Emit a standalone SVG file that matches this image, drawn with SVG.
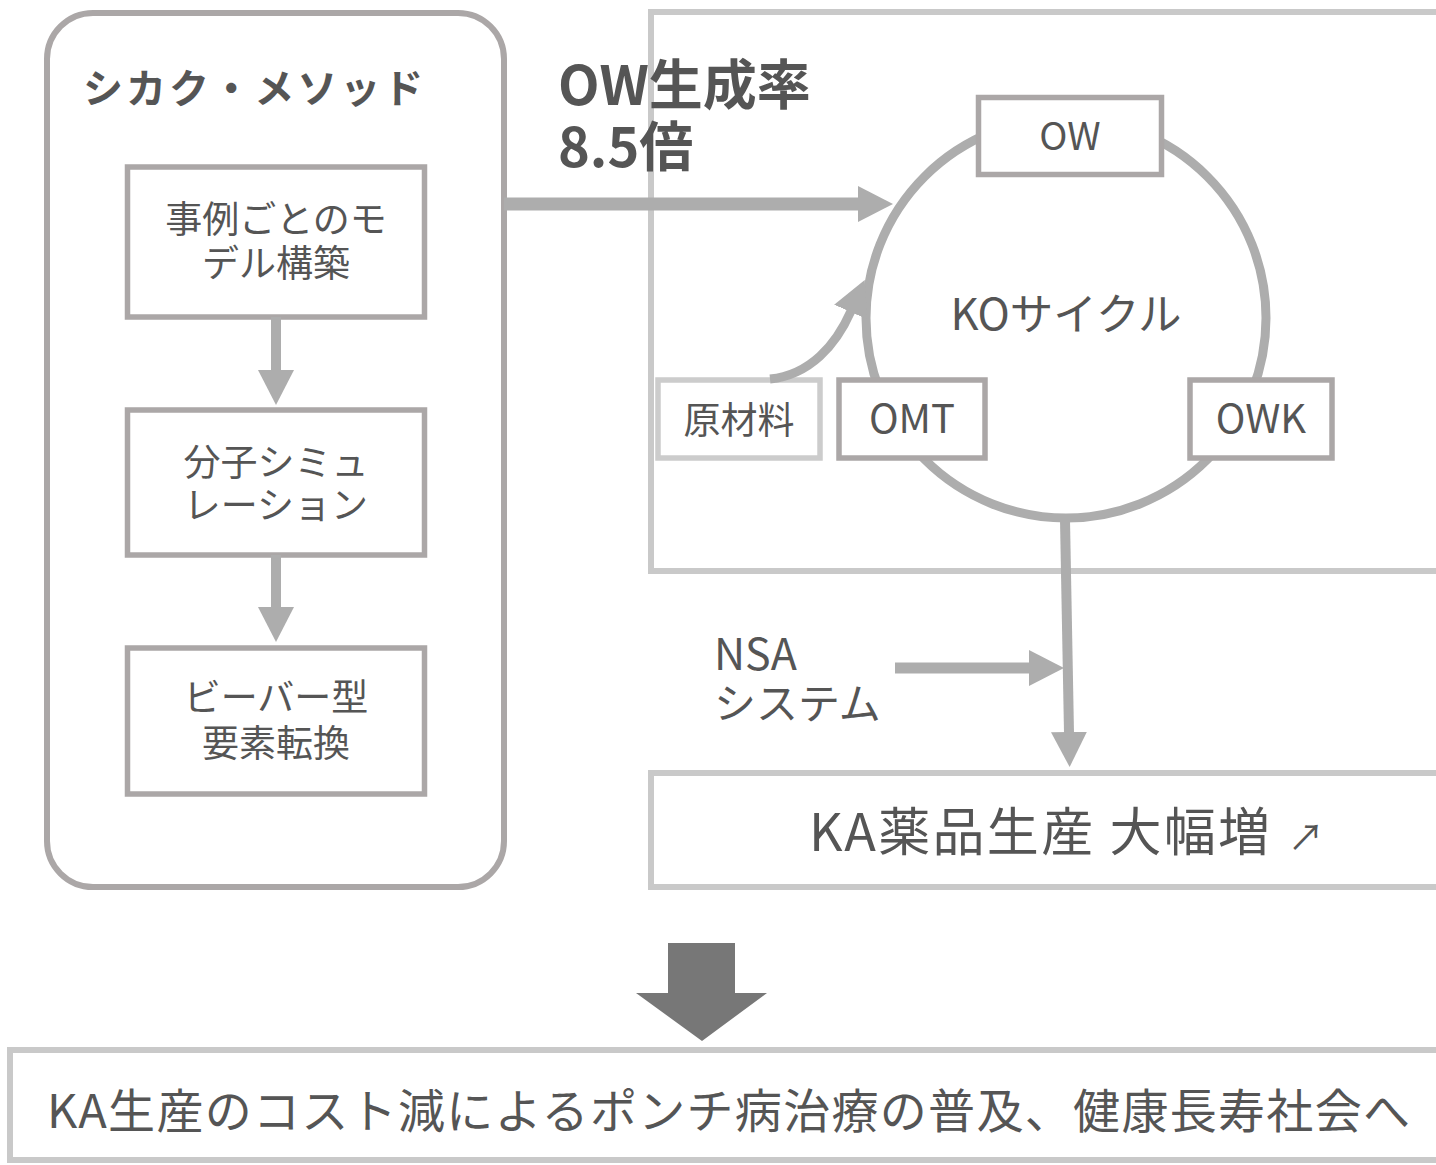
<svg xmlns="http://www.w3.org/2000/svg" width="1436" height="1165" viewBox="0 0 1436 1165">
<style>
text{font-family:"Noto Sans CJK JP","Noto Sans",sans-serif;fill:#555555}
.box{fill:#ffffff;stroke:#aba7a7;stroke-width:5.5}
.lbox{fill:#ffffff;stroke:#c9c9c9;stroke-width:6}
.con{fill:none;stroke:#adadad}
.mid{text-anchor:middle}
</style>
<defs>
<marker id="ah" viewBox="0 0 35 36" markerWidth="35" markerHeight="36" refX="1" refY="18" orient="auto" markerUnits="userSpaceOnUse">
<path d="M0,0 L35,18 L0,36 z" fill="#adadad"/>
</marker>
</defs>

<g id="frame-right">
<rect class="lbox" x="651" y="12" width="900" height="559" fill="none"/>
</g>

<g id="method">
<rect x="47" y="13" width="457" height="874" rx="46" fill="#ffffff" stroke="#aba7a7" stroke-width="6"/>
<text x="83" y="103" font-size="40" font-weight="bold" letter-spacing="3">シカク・メソッド</text>
</g>

<g id="step1">
<rect class="box" x="127.5" y="167" width="297" height="150"/>
<text class="mid" font-size="37"><tspan x="276" y="233">事例ごとのモ</tspan><tspan x="276" y="277">デル構築</tspan></text>
</g>
<g id="step2">
<rect class="box" x="127.5" y="410" width="297" height="145"/>
<text class="mid" font-size="37"><tspan x="276" y="476">分子シミュ</tspan><tspan x="276" y="519">レーション</tspan></text>
</g>
<g id="step3">
<rect class="box" x="127.5" y="648" width="297" height="146"/>
<text class="mid" font-size="37"><tspan x="276" y="711">ビーバー型</tspan><tspan x="276" y="757">要素転換</tspan></text>
</g>

<g id="cycle">
<circle cx="1066" cy="318" r="200" fill="none" stroke="#adadad" stroke-width="9"/>
<text class="mid" x="1066" y="330" font-size="43.5">KOサイクル</text>
</g>
<g id="ow">
<rect class="box" x="978.5" y="97.5" width="183" height="77"/>
<text class="mid" x="1070" y="150" font-size="38">OW</text>
</g>
<g id="omt">
<rect class="box" x="839" y="380" width="146" height="78"/>
<text class="mid" x="912" y="433" font-size="40">OMT</text>
</g>
<g id="owk">
<rect class="box" x="1190" y="380" width="142" height="78"/>
<text class="mid" x="1261" y="433" font-size="40">OWK</text>
</g>
<g id="material">
<rect x="658" y="380" width="162" height="78" fill="#ffffff" stroke="#cccccc" stroke-width="5.5"/>
<text class="mid" x="739" y="434" font-size="37">原材料</text>
</g>

<g id="connectors">
<line class="con" x1="276" y1="317" x2="276" y2="371" stroke-width="10" marker-end="url(#ah)"/>
<line class="con" x1="276" y1="555" x2="276" y2="608" stroke-width="10" marker-end="url(#ah)"/>
<line class="con" x1="504" y1="204" x2="859" y2="204" stroke-width="13" marker-end="url(#ah)"/>
<path class="con" d="M770,379 C810,375 836,345 851,311" stroke-width="9" marker-end="url(#ah)"/>
<line class="con" x1="1065" y1="520" x2="1069" y2="733" stroke-width="10" marker-end="url(#ah)"/>
<line class="con" x1="895" y1="668" x2="1030" y2="668" stroke-width="11" marker-end="url(#ah)"/>
</g>

<g id="rate-label">
<text font-size="54" font-weight="bold"><tspan x="558" y="105">OW生成率</tspan><tspan x="558" y="167">8.5倍</tspan></text>
</g>

<g id="nsa">
<text font-size="43"><tspan x="714" y="670">NSA</tspan><tspan x="714" y="719" font-size="42">システム</tspan></text>
</g>

<g id="production">
<rect class="lbox" x="651" y="773" width="900" height="114"/>
<text y="851" font-size="52"><tspan x="809" textLength="461" lengthAdjust="spacing">KA薬品生産 大幅増</tspan><tspan x="1288" font-size="36">↗</tspan></text>
</g>

<g id="big-arrow">
<polygon points="668,943 735,943 735,993 767,993 702,1041 636,993 668,993" fill="#777777"/>
</g>

<g id="result">
<rect class="lbox" x="10" y="1050" width="1440" height="110"/>
<text x="47" y="1128" font-size="47" textLength="1363" lengthAdjust="spacing">KA生産のコスト減によるポンチ病治療の普及、健康長寿社会へ</text>
</g>
</svg>
